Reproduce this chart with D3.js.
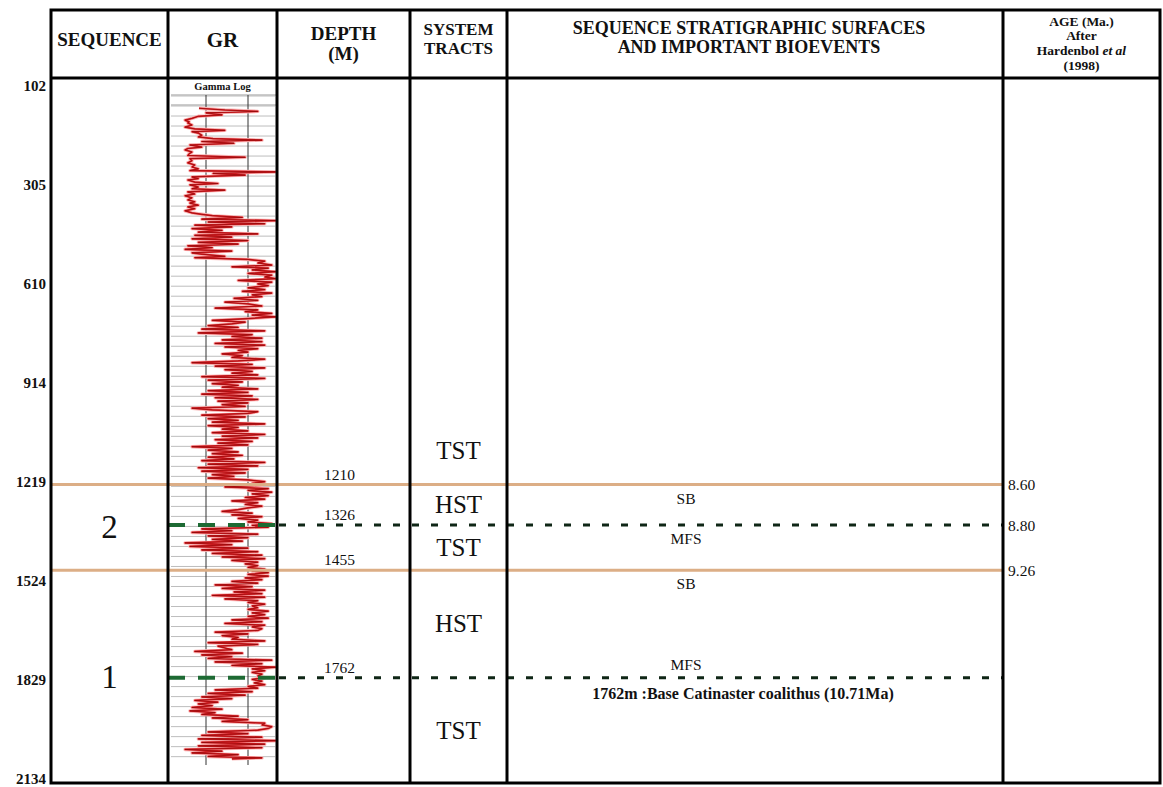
<!DOCTYPE html>
<html>
<head>
<meta charset="utf-8">
<script src="https://cdn.jsdelivr.net/npm/d3@7"></script>
<style>
  html, body { margin: 0; padding: 0; background: #fff; }
  svg { display: block; }
  text { font-family: "Liberation Serif", "Times New Roman", serif; fill: #111; }
</style>
</head>
<body>
<svg id="chart" width="1163" height="787"></svg>
<script>
// ---- Data -------------------------------------------------------------
// Depth ruler labels (m), drawn at equal spacing down the left margin
const rulerTicks = ["102", "305", "610", "914", "1219", "1524", "1829", "2134"];

// Sequence stratigraphic surfaces
const surfaceDepths = [1210, 1326, 1455, 1762];
const surfaceTypes  = ["SB", "MFS", "SB", "MFS"];
const surfaceAges   = ["8.60", "8.80", "9.26", ""];

// Biostratigraphic events
const bioeventDepths = [1762];
const bioeventTexts  = ["1762m :Base Catinaster coalithus (10.71Ma)"];

// System tracts (top / base depth; null = open end)
const tractNames  = ["TST", "HST", "TST", "HST", "TST"];
const tractTops   = [null, 1210, 1326, 1455, 1762];
const tractBases  = [1210, 1326, 1455, 1762, null];

// Sequences
const sequenceNames = ["2", "1"];
const sequenceTops  = [1210, 1455];
const sequenceBases = [1455, null];

// Gamma-ray log: [depth (m), GR (API)]
const grLog = [
  [135,40],[140,77],[144,124],[148,50],[154,73],[158,39],[164,30],[169,20],[174,26],[177,24],
  [183,30],[189,20],[194,34],[198,77],[202,30],[206,39],[212,44],[217,39],[222,60],[226,130],
  [230,44],[235,90],[240,27],[246,44],[250,24],[254,20],[260,30],[265,26],[270,24],[275,106],
  [279,27],[285,30],[291,24],[297,34],[303,30],[308,39],[313,27],[317,149],[321,60],[326,106],
  [331,30],[336,39],[340,24],[346,34],[350,67],[354,27],[360,39],[365,30],[369,77],[374,24],
  [380,34],[385,20],[391,30],[397,24],[402,34],[406,27],[412,39],[417,24],[422,34],[428,20],
  [434,30],[438,44],[442,59],[447,102],[452,44],[456,149],[460,53],[465,134],[469,34],[474,87],
  [479,30],[484,73],[489,39],[494,124],[498,34],[503,87],[508,30],[513,110],[518,39],[523,96],
  [528,24],[533,59],[538,20],[543,87],[548,30],[552,44],[558,77],[562,34],[567,110],[572,134],
  [577,124],[583,144],[588,87],[592,139],[597,116],[602,149],[607,110],[612,144],[617,134],[622,149],
  [627,96],[632,144],[637,124],[642,139],[648,110],[653,134],[658,102],[663,144],[668,116],[673,130],
  [678,90],[684,124],[689,77],[694,110],[700,130],[706,63],[711,124],[716,106],[721,144],[726,116],
  [731,149],[736,110],[741,59],[746,106],[751,87],[756,53],[761,96],[766,44],[771,134],[777,39],
  [782,116],[787,87],[792,130],[797,73],[802,130],[807,63],[812,134],[817,77],[822,124],[827,96],
  [832,110],[837,73],[842,102],[847,87],[852,134],[857,96],[862,30],[867,116],[872,63],[877,134],
  [882,77],[887,116],[892,87],[897,124],[902,44],[907,134],[912,53],[917,102],[922,59],[927,96],
  [932,73],[937,124],[942,53],[947,110],[952,44],[957,116],[962,63],[967,124],[972,67],[977,110],
  [982,73],[987,106],[992,30],[997,59],[1002,124],[1007,110],[1012,44],[1017,106],[1022,53],[1027,96],
  [1032,59],[1037,134],[1042,53],[1047,96],[1052,73],[1057,110],[1062,59],[1067,134],[1072,73],[1077,124],
  [1082,63],[1087,116],[1092,67],[1097,110],[1102,30],[1107,87],[1112,53],[1117,96],[1122,59],[1127,102],
  [1132,53],[1137,90],[1142,44],[1147,134],[1152,53],[1157,124],[1162,39],[1167,110],[1172,44],[1177,106],
  [1182,59],[1187,90],[1192,53],[1197,110],[1202,134],[1207,116],[1212,130],[1217,77],[1222,139],[1227,110],
  [1232,144],[1237,116],[1242,139],[1247,106],[1252,134],[1257,87],[1262,124],[1267,106],[1272,130],[1277,110],
  [1282,96],[1287,73],[1292,116],[1297,87],[1302,130],[1307,96],[1312,124],[1317,110],[1322,144],[1327,116],
  [1332,139],[1337,44],[1342,87],[1347,30],[1352,124],[1357,53],[1362,110],[1367,59],[1372,102],[1377,20],
  [1382,87],[1387,27],[1392,110],[1397,44],[1402,124],[1407,59],[1412,130],[1417,73],[1422,134],[1427,87],
  [1432,124],[1437,106],[1442,124],[1447,110],[1452,134],[1457,116],[1462,139],[1467,110],[1472,139],[1477,106],
  [1482,130],[1487,87],[1492,124],[1497,63],[1502,116],[1507,73],[1512,134],[1517,90],[1522,130],[1527,59],
  [1532,134],[1537,77],[1542,124],[1547,110],[1552,134],[1557,116],[1562,124],[1567,110],[1572,139],[1577,116],
  [1582,134],[1587,110],[1592,139],[1597,87],[1602,130],[1607,77],[1612,134],[1617,116],[1622,130],[1627,124],
  [1632,63],[1637,110],[1642,73],[1647,96],[1652,87],[1657,134],[1662,53],[1667,124],[1672,67],[1677,77],
  [1682,87],[1687,34],[1692,102],[1697,44],[1702,87],[1707,53],[1712,144],[1717,63],[1722,130],[1727,87],
  [1732,149],[1737,116],[1742,134],[1747,116],[1752,130],[1757,124],[1762,134],[1767,116],[1772,130],[1777,119],
  [1782,134],[1787,110],[1792,124],[1797,63],[1802,116],[1807,53],[1812,106],[1817,44],[1822,87],[1827,34],
  [1832,67],[1837,39],[1842,59],[1847,30],[1852,73],[1857,27],[1862,63],[1867,44],[1872,96],[1877,59],
  [1882,110],[1887,73],[1892,134],[1897,130],[1902,144],[1907,139],[1912,124],[1917,53],[1922,110],[1927,44],
  [1932,130],[1937,39],[1942,149],[1947,44],[1952,134],[1957,39],[1962,130],[1967,20],[1972,73],[1977,30],
  [1982,96],[1987,53],[1991,130],[1994,87]
];

// GR track reference lines (API)
const grGridValues = [50, 110];

// ---- Layout -----------------------------------------------------------
const svg = d3.select("#chart");
const T = { left: 51, right: 1160, top: 10, head: 78, bottom: 783 };
const cols = [51, 168, 277, 410, 507, 1003, 1160];
const gr = { x0: 171, x1: 276, y0: 95, y1: 765 };

const y = d3.scaleLinear().domain([0, 2000]).range([61, 761]);
const grX = d3.scaleLinear().domain([0, 150]).range([gr.x0, gr.x1]);
const ruler = d3.scalePoint().domain(rulerTicks).range([88, 781]);

const colMid = i => (cols[i] + cols[i + 1]) / 2;
const yOf = d => (d == null ? T.bottom : y(d));

// ---- GR track ---------------------------------------------------------
const track = svg.append("g");
track.append("text")
  .attr("x", colMid(1)).attr("y", 90)
  .attr("text-anchor", "middle")
  .style("font-size", "10.5px").style("font-weight", "bold")
  .text("Gamma  Log");
track.selectAll("line.hdr").data([95, 105]).join("line")
  .attr("x1", gr.x0).attr("x2", gr.x1).attr("y1", d => d).attr("y2", d => d)
  .attr("stroke", "#9a9a9a").attr("stroke-width", 1.2);

track.selectAll("line.hgrid").data(d3.range(100, 2015, 28.6)).join("line")
  .attr("x1", gr.x0).attr("x2", gr.x1 - 1)
  .attr("y1", d => y(d)).attr("y2", d => y(d))
  .attr("stroke", "#bdbdbd").attr("stroke-width", 1);

track.selectAll("line.vgrid").data(grGridValues).join("line")
  .attr("x1", d => grX(d)).attr("x2", d => grX(d))
  .attr("y1", gr.y0).attr("y2", gr.y1)
  .attr("stroke", "#333").attr("stroke-width", 1);

const grLine = d3.line().x(d => grX(d[1])).y(d => y(d[0]));
svg.append("clipPath").attr("id", "grclip").append("rect")
  .attr("x", gr.x0).attr("y", gr.y0).attr("width", gr.x1 - gr.x0).attr("height", gr.y1 - gr.y0);
const curve = svg.append("g").attr("clip-path", "url(#grclip)");
curve.append("path").datum(grLog).attr("d", grLine)
  .attr("fill", "none").attr("stroke", "#f7b9b9").attr("stroke-width", 3.4).attr("stroke-linejoin", "round");
curve.append("path").datum(grLog).attr("d", grLine)
  .attr("fill", "none").attr("stroke", "#e3242a").attr("stroke-width", 1.7).attr("stroke-linejoin", "round");
curve.append("path").datum(grLog).attr("d", grLine)
  .attr("fill", "none").attr("stroke", "#8e0606").attr("stroke-width", 0.7).attr("stroke-linejoin", "round");

// ---- Surfaces ---------------------------------------------------------
const surfaces = surfaceDepths.map((d, i) => ({ depth: d, type: surfaceTypes[i], age: surfaceAges[i] }));
const sg = svg.append("g");
surfaces.filter(s => s.type === "SB").forEach(s => {
  sg.append("line")
    .attr("x1", cols[0]).attr("x2", cols[5]).attr("y1", y(s.depth)).attr("y2", y(s.depth))
    .attr("stroke", "#dcae86").attr("stroke-width", 3);
});
surfaces.filter(s => s.type === "MFS").forEach(s => {
  sg.append("line")
    .attr("x1", cols[2] + 2).attr("x2", cols[5]).attr("y1", y(s.depth)).attr("y2", y(s.depth))
    .attr("stroke", "#0f2616").attr("stroke-width", 3).attr("stroke-dasharray", "7,12");
  sg.append("line")
    .attr("x1", cols[1]).attr("x2", cols[2]).attr("y1", y(s.depth)).attr("y2", y(s.depth))
    .attr("stroke", "#1d6a33").attr("stroke-width", 4).attr("stroke-dasharray", "17,13");
});

// ---- Table frame ------------------------------------------------------
const frame = svg.append("g").attr("stroke", "#000").attr("stroke-width", 3).attr("fill", "none");
frame.append("rect").attr("x", T.left).attr("y", T.top)
  .attr("width", T.right - T.left).attr("height", T.bottom - T.top);
frame.append("line").attr("x1", T.left).attr("x2", T.right).attr("y1", T.head).attr("y2", T.head);
frame.selectAll("line.col").data(cols.slice(1, -1)).join("line")
  .attr("x1", d => d).attr("x2", d => d).attr("y1", T.top).attr("y2", T.bottom);

// ---- Header -----------------------------------------------------------
const header = [
  { col: 0, lines: ["SEQUENCE"], y0: 42, size: 19 },
  { col: 1, lines: ["GR"], y0: 42, size: 21 },
  { col: 2, lines: ["DEPTH", "(M)"], y0: 36, size: 19, lh: 20 },
  { col: 3, lines: ["SYSTEM", "TRACTS"], y0: 31, size: 17, lh: 19 },
  { col: 4, lines: ["SEQUENCE STRATIGRAPHIC SURFACES", "AND IMPORTANT BIOEVENTS"], y0: 30, size: 18, lh: 19 }
];
header.forEach(h => {
  h.lines.forEach((t, i) => {
    svg.append("text")
      .attr("x", colMid(h.col) - (h.col === 4 ? 6 : 0)).attr("y", h.y0 + i * (h.lh || 0))
      .attr("text-anchor", "middle").attr("dominant-baseline", "middle")
      .style("font-size", h.size + "px").style("font-weight", "bold")
      .text(t);
  });
});
const ageHead = svg.append("text").attr("text-anchor", "middle")
  .style("font-size", "13.5px").style("font-weight", "bold");
ageHead.append("tspan").attr("x", colMid(5)).attr("y", 26).text("AGE (Ma.)");
ageHead.append("tspan").attr("x", colMid(5)).attr("y", 40).text("After");
const hb = ageHead.append("tspan").attr("x", colMid(5)).attr("y", 55);
hb.append("tspan").text("Hardenbol ");
hb.append("tspan").style("font-style", "italic").text("et al");
ageHead.append("tspan").attr("x", colMid(5)).attr("y", 70).text("(1998)");

// ---- Depth ruler ------------------------------------------------------
svg.selectAll("text.ruler").data(rulerTicks).join("text")
  .attr("x", 46).attr("y", d => ruler(d))
  .attr("text-anchor", "end").attr("dominant-baseline", "middle")
  .style("font-size", "15px").style("font-weight", "bold")
  .text(d => d);

// ---- Sequences --------------------------------------------------------
sequenceNames.forEach((n, i) => {
  svg.append("text")
    .attr("x", colMid(0)).attr("y", (yOf(sequenceTops[i]) + yOf(sequenceBases[i])) / 2)
    .attr("text-anchor", "middle").attr("dominant-baseline", "central")
    .style("font-size", "33px").text(n);
});

// ---- System tracts ----------------------------------------------------
tractNames.forEach((n, i) => {
  const yy = tractTops[i] == null
    ? yOf(tractBases[i]) - 34
    : (yOf(tractTops[i]) + yOf(tractBases[i])) / 2;
  svg.append("text")
    .attr("x", colMid(3)).attr("y", yy)
    .attr("text-anchor", "middle").attr("dominant-baseline", "central")
    .style("font-size", "25px").text(n);
});

// ---- Surface depth, name and age labels -------------------------------
surfaces.forEach(s => {
  const ys = y(s.depth);
  svg.append("text")
    .attr("x", colMid(2) - 4).attr("y", ys - 5)
    .attr("text-anchor", "middle").style("font-size", "15.5px").text(s.depth);
  const bioBelow = bioeventDepths.includes(s.depth);
  svg.append("text")
    .attr("x", 686).attr("y", bioBelow ? ys - 8 : ys + 19)
    .attr("text-anchor", "middle").style("font-size", "15.5px").text(s.type);
  if (s.age) {
    svg.append("text")
      .attr("x", cols[5] + 5).attr("y", ys + 2)
      .attr("dominant-baseline", "middle").style("font-size", "15.5px").text(s.age);
  }
});
bioeventDepths.forEach((d, i) => {
  svg.append("text")
    .attr("x", 743).attr("y", y(d) + 21)
    .attr("text-anchor", "middle").style("font-size", "16px").style("font-weight", "bold")
    .text(bioeventTexts[i]);
});
</script>
</body>
</html>
